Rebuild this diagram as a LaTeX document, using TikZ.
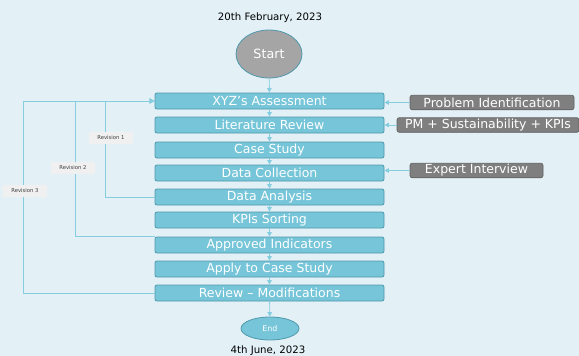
\documentclass[tikz,border=0pt]{standalone}
\usepackage{fontspec}
\setmainfont{DejaVu Sans}
\usetikzlibrary{arrows.meta,shapes.geometric}
\definecolor{bg}{HTML}{E3F1F7}
\definecolor{boxfill}{HTML}{76C5D9}
\definecolor{boxline}{HTML}{4F98AB}
\definecolor{conn}{HTML}{86CDE0}
\definecolor{greybox}{HTML}{7F7F7F}
\definecolor{greyline}{HTML}{5F5F5F}
\definecolor{startfill}{HTML}{A5A5A5}
\definecolor{revfill}{HTML}{F0F0F0}
\definecolor{revtext}{HTML}{404040}
\tikzset{
  stepbox/.style={draw=boxline, line width=0.8pt, fill=boxfill, rounded corners=2pt,
    minimum width=229pt, minimum height=16pt, inner sep=0pt, text=white,
    font=\fontsize{12.5}{13}\selectfont},
  sidebox/.style={draw=greyline, line width=0.6pt, fill=greybox, rounded corners=2pt,
    minimum height=14.5pt, inner sep=0pt, text=white,
    font=\fontsize{12.5}{13}\selectfont},
  revbox/.style={fill=revfill, minimum width=44pt, minimum height=12pt, inner sep=0pt,
    text=revtext, font=\fontsize{5.3}{6}\selectfont},
  conn/.style={draw=conn, line width=0.8pt, -{Triangle[length=4.5pt,width=4.5pt]}},
  fb/.style={draw=conn, line width=1pt, -{Triangle[length=5pt,width=5pt]}},
  datetext/.style={font=\fontsize{10.2}{11}\selectfont, text=black}
}
\begin{document}
\begin{tikzpicture}[x=1pt,y=-1pt]
\fill[bg] (0,0) rectangle (579,356);
\useasboundingbox (0,0) rectangle (579,356);

\node[datetext] (d1) at (270,18) {20th February, 2023};
\node[datetext] (d2) at (268,351) {4th June, 2023};

\node[ellipse, draw=boxline, line width=0.8pt, fill=startfill, minimum width=66pt, minimum height=48pt,
  inner sep=0pt, text=white, font=\fontsize{12.7}{13}\selectfont] (start) at (269,54) {Start};
\node[ellipse, draw=boxline, line width=0.8pt, fill=boxfill, minimum width=58pt, minimum height=23pt,
  inner sep=0pt, text=white, font=\fontsize{7.9}{9}\selectfont] (end) at (270,328.5) {End};

\node[stepbox] (xyz)  at (269.5,101) {XYZ’s Assessment};
\node[stepbox] (lit)  at (269.5,125) {Literature Review};
\node[stepbox] (cs)   at (269.5,150) {Case Study};
\node[stepbox] (dc)   at (269.5,173) {Data Collection};
\node[stepbox] (da)   at (269.5,197) {Data Analysis};
\node[stepbox] (kpi)  at (269.5,220) {KPIs Sorting};
\node[stepbox] (appr) at (269.5,245) {Approved Indicators};
\node[stepbox] (apply) at (269.5,269) {Apply to Case Study};
\node[stepbox] (rev)  at (269.5,293) {Review – Modifications};

\node[sidebox, minimum width=164pt] (pi) at (492,102.5) {Problem Identification};
\node[sidebox, minimum width=182pt] (pm) at (488,125) {PM + Sustainability + KPIs};
\node[sidebox, minimum width=133pt] (ei) at (476.5,170.5) {Expert Interview};

\draw[conn] (start) -- (xyz);
\draw[conn] (xyz) -- (lit);
\draw[conn] (lit) -- (cs);
\draw[conn] (cs) -- (dc);
\draw[conn] (dc) -- (da);
\draw[conn] (da) -- (kpi);
\draw[conn] (kpi) -- (appr);
\draw[conn] (appr) -- (apply);
\draw[conn] (apply) -- (rev);
\draw[conn] (rev) -- (end);

\draw[conn] (pi.west) -- (pi.west -| xyz.east);
\draw[conn] (pm.west) -- (pm.west -| lit.east);
\draw[conn] (ei.west) -- (ei.west -| dc.east);

\draw[fb] (da.west) -- ++(-49,0) |- (xyz.west);
\draw[fb] (appr.north west) -- ++(-79,0) |- (xyz.west);
\draw[fb] (rev.west) -- ++(-131,0) |- (xyz.west);

\node[revbox] (r1) at (111,138) {Revision 1};
\node[revbox] (r2) at (73,168) {Revision 2};
\node[revbox] (r3) at (25,191) {Revision 3};
\end{tikzpicture}
\end{document}
